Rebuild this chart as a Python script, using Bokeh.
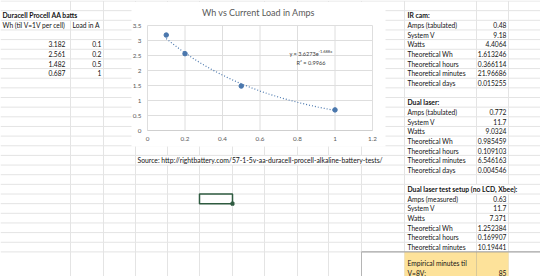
import numpy as np
from bokeh.plotting import figure
from bokeh.models import Range1d
from bokeh.embed import file_html
from bokeh.resources import INLINE
from bokeh.core.properties import value

# ---------------- data ----------------
load_amps = [0.1, 0.2, 0.5, 1.0]
wh_til_1v = [3.182, 2.561, 1.482, 0.687]
wh_text = ["3.182", "2.561", "1.482", "0.687"]
load_text = ["0.1", "0.2", "0.5", "1"]
fit_coef = 3.6273
fit_exp = -1.688
fit_r2 = 0.9966
x_ticks = [0, 0.2, 0.4, 0.6, 0.8, 1.0, 1.2]
y_ticks = [0, 0.5, 1, 1.5, 2, 2.5, 3, 3.5]
x_tick_labels = ["0", "0.2", "0.4", "0.6", "0.8", "1", "1.2"]
y_tick_labels = ["0", "0.5", "1", "1.5", "2", "2.5", "3", "3.5"]
chart_title = "Wh vs Current Load in Amps"

left_title = "Duracell Procell AA batts"
left_headers = ["Wh (til V=1V per cell)", "Load in A"]

ir_title = "IR cam:"
ir_labels = ["Amps (tabulated)", "System V", "Watts", "Theoretical Wh",
             "Theoretical hours", "Theoretical minutes", "Theoretical days"]
ir_values = ["0.48", "9.18", "4.4064", "1.613246", "0.366114", "21.96686", "0.015255"]
laser_title = "Dual laser:"
laser_labels = ["Amps (tabulated)", "System V", "Watts", "Theoretical Wh",
                "Theoretical hours", "Theoretical minutes", "Theoretical days"]
laser_values = ["0.772", "11.7", "9.0324", "0.985459", "0.109103", "6.546163", "0.004546"]
test_title = "Dual laser test setup (no LCD, Xbee):"
test_labels = ["Amps (measured)", "System V", "Watts", "Theoretical Wh",
               "Theoretical hours", "Theoretical minutes"]
test_values = ["0.63", "11.7", "7.371", "1.252384", "0.169907", "10.19441"]
empirical_label = ["Empirical minutes til", "V=8V:"]
empirical_value = "85"
source_note = "Source: http://rightbattery.com/57-1-5v-aa-duracell-procell-alkaline-battery-tests/"

# ---------------- geometry / style ----------------
W, H = 540, 276
ROW_Y0, ROW_H = 0.5, 9.65
N_ROWS = 26
row_tops = [ROW_Y0 + ROW_H * k for k in range(N_ROWS + 1)]


def rc(k):
    return ROW_Y0 + ROW_H * k + ROW_H / 2


col_lines = [70, 103, 135, 167, 199, 232, 264, 297, 328, 361, 404, 476, 508]
hidden = {(70, 1), (476, 19), (508, 19)} | {(c, 16) for c in [167, 199, 232, 264, 297, 328, 361]}
CHART_BOX = (131, 385, 1.5, 146)          # chart area on the sheet (px)
FRAME = (147, 372, 130, 25)               # plot frame: left, right, bottom, top (px)

FONT = "Lato"
FS = "6.7px"
FS_BOLD = "6.8px"
TXT = "#141414"
GRID = "#e4e4e4"
BLUE = "#4a77ad"
AXTXT = "#595959"

p = figure(width=W, height=H, x_range=Range1d(0, W), y_range=Range1d(H, 0),
           output_backend="svg", toolbar_location=None, min_border=0,
           x_axis_type=None, y_axis_type=None)
p.grid.visible = False
p.outline_line_color = None
p.background_fill_color = "white"
p.border_fill_color = "white"

# ---------------- sheet gridlines ----------------
p.segment(x0=[0] * len(row_tops), x1=[W] * len(row_tops), y0=row_tops, y1=row_tops,
          line_color=GRID, line_width=1)
bounds = row_tops + [H + 10]
sx, sy0, sy1 = [], [], []
for c in col_lines:
    for k in range(len(bounds) - 1):
        if (c, k) not in hidden:
            sx.append(c); sy0.append(bounds[k]); sy1.append(bounds[k + 1])
p.segment(x0=sx, x1=sx, y0=sy0, y1=sy1, line_color=GRID, line_width=1)

# yellow result cell and its border
p.quad(left=[404], right=[508], top=[row_tops[26]], bottom=[H + 5], fill_color="#fde29a", line_color=None)
p.segment(x0=[476], x1=[476], y0=[row_tops[26]], y1=[H], line_color="#d8c89a", line_width=1)
p.segment(x0=[361], x1=[W], y0=[row_tops[26]], y1=[row_tops[26]], line_color="#9a9a9a", line_width=1)
p.segment(x0=[361], x1=[361], y0=[row_tops[26]], y1=[H], line_color="#b5b5b5", line_width=1)

# selected cell
p.quad(left=[199], right=[232], top=[row_tops[20]], bottom=[row_tops[21]],
       fill_color=None, line_color="#2f5b40", line_width=1.5)
p.scatter([232], [row_tops[21]], marker="square", size=3, color="#2f5b40")


def put(xs, ys, texts, align="left", bold=False, size=None, color=TXT):
    if size is None:
        size = FS_BOLD if bold else FS
    p.text(x=xs, y=ys, text=texts, text_align=align, text_baseline="middle",
           text_font=value(FONT), text_font_size=value(size),
           text_font_style="bold" if bold else "normal", text_color=color)


# ---------------- left table ----------------
put([2], [rc(1)], [left_title], bold=True)
put([2, 72], [rc(2), rc(2)], left_headers)
put([65] * 4, [rc(4 + i) for i in range(4)], wh_text, align="right")
put([101] * 4, [rc(4 + i) for i in range(4)], load_text, align="right")

# source note
put([137], [rc(16)], [source_note], size="6.8px")

# ---------------- right table ----------------
LX, VX = 407, 506
put([LX], [rc(1)], [ir_title], bold=True)
put([LX] * 7, [rc(2 + i) for i in range(7)], ir_labels)
put([VX] * 7, [rc(2 + i) for i in range(7)], ir_values, align="right")
put([LX], [rc(10)], [laser_title], bold=True)
put([LX] * 7, [rc(11 + i) for i in range(7)], laser_labels)
put([VX] * 7, [rc(11 + i) for i in range(7)], laser_values, align="right")
put([LX], [rc(19)], [test_title], bold=True)
put([LX] * 6, [rc(20 + i) for i in range(6)], test_labels)
put([VX] * 6, [rc(20 + i) for i in range(6)], test_values, align="right")
put([LX, LX], [row_tops[26] + 11.5, row_tops[26] + 20.6], empirical_label)
put([VX], [row_tops[26] + 20.6], [empirical_value], align="right")

# ---------------- embedded chart ----------------
bx0, bx1, by0, by1 = CHART_BOX
p.quad(left=[bx0], right=[bx1], top=[by0], bottom=[by1], fill_color="white", line_color=None)
put([(bx0 + bx1) / 2], [12], [chart_title], align="center", size="9px", color=AXTXT)

fx0, fx1, fy0, fy1 = FRAME
xr, yr = Range1d(0, 1.2), Range1d(0, 3.5)
sub = p.subplot(x_source=xr, y_source=yr,
                x_target=Range1d(fx0, fx1), y_target=Range1d(fy0, fy1))
px_x = (xr.end - xr.start) / (fx1 - fx0)   # data units per pixel
px_y = (yr.end - yr.start) / (fy0 - fy1)

# grid
sub.segment(x0=x_ticks, x1=x_ticks, y0=[yr.start] * len(x_ticks), y1=[yr.end] * len(x_ticks),
            line_color="#dedede", line_width=1)
sub.segment(x0=[xr.start] * len(y_ticks), x1=[xr.end] * len(y_ticks), y0=y_ticks, y1=y_ticks,
            line_color="#dedede", line_width=1)
sub.segment(x0=[xr.start], x1=[xr.end], y0=[0], y1=[0], line_color="#cfcfcf", line_width=1)
# tick labels
sub.text(x=x_ticks, y=[-8 * px_y] * len(x_ticks), text=x_tick_labels, text_align="center",
         text_baseline="middle", text_font=value(FONT), text_font_size=value("6.3px"), text_color=AXTXT)
sub.text(x=[-6 * px_x] * len(y_ticks), y=y_ticks, text=y_tick_labels, text_align="right",
         text_baseline="middle", text_font=value(FONT), text_font_size=value("6.3px"), text_color=AXTXT)

# trendline (displayed exponential fit) and data
trend_x = np.linspace(min(load_amps), max(load_amps), 80)
trend_y = fit_coef * np.exp(fit_exp * trend_x)
sub.line(trend_x, trend_y, line_color=BLUE, line_dash="1 2", line_width=1.2)
sub.scatter(load_amps, wh_til_1v, size=4.5, color=BLUE)

# fit equation
sub.text(x=[0.757], y=[2.56], text=[f"y = {fit_coef}e"], text_baseline="middle",
         text_font=value(FONT), text_font_size=value("5.6px"), text_color="#404040")
sub.text(x=[0.757], y=[2.56 + 2 * px_y], x_offset=29, text=[f"{fit_exp}x"], text_baseline="middle",
         text_font=value(FONT), text_font_size=value("4px"), text_color="#404040")
sub.text(x=[0.795], y=[2.28], text=[f"R\u00b2 = {fit_r2}"], text_baseline="middle",
         text_font=value(FONT), text_font_size=value("5.6px"), text_color="#404040")

open("out.html", "w").write(file_html(p, INLINE))
